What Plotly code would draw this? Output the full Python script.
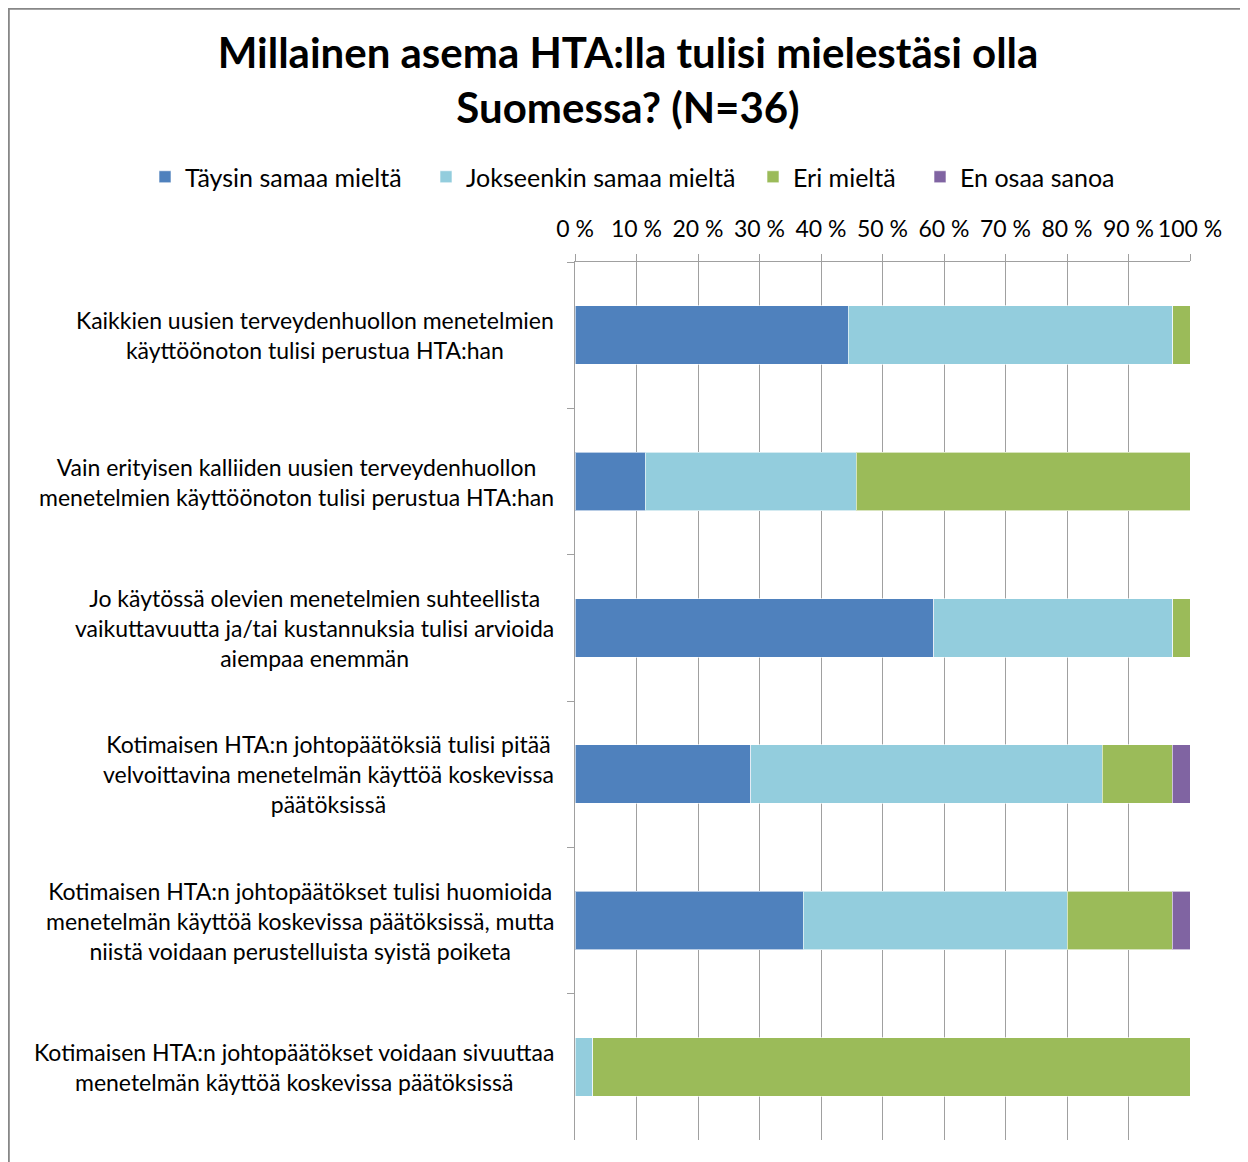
import plotly.graph_objects as go

# statements (top to bottom)
statements = [
    "Kaikkien uusien terveydenhuollon menetelmien<br>käyttöönoton tulisi perustua HTA:han",
    "Vain erityisen kalliiden uusien terveydenhuollon<br>menetelmien käyttöönoton tulisi perustua HTA:han",
    "Jo käytössä olevien menetelmien suhteellista<br>vaikuttavuutta ja/tai kustannuksia tulisi arvioida<br>aiempaa enemmän",
    "Kotimaisen HTA:n johtopäätöksiä tulisi pitää<br>velvoittavina menetelmän käyttöä koskevissa<br>päätöksissä",
    "Kotimaisen HTA:n johtopäätökset tulisi huomioida<br>menetelmän käyttöä koskevissa päätöksissä, mutta<br>niistä voidaan perustelluista syistä poiketa",
    "Kotimaisen HTA:n johtopäätökset voidaan sivuuttaa<br>menetelmän käyttöä koskevissa päätöksissä",
]
categories = ["S1", "S2", "S3", "S4", "S5", "S6"]

# shares in percent
taysin = [44.4, 11.4, 58.3, 28.6, 37.1, 0.0]
jokseenkin = [52.8, 34.3, 38.9, 57.1, 42.9, 2.9]
eri = [2.8, 54.3, 2.8, 11.4, 17.1, 97.1]
en_osaa = [0.0, 0.0, 0.0, 2.9, 2.9, 0.0]

series = [
    ("Täysin samaa mieltä", taysin, "#4F81BD", 236),
    ("Jokseenkin samaa mieltä", jokseenkin, "#93CDDD", 282),
    ("Eri mieltä", eri, "#9BBB59", 122),
    ("En osaa sanoa", en_osaa, "#8064A2", 160),
]

FONT = "Lato"
# the page puts the figure 8px in from the top-left corner
W, H = 1240, 1154
L, R, T, B = 567, 58, 254, 22
PW, PH = W - L - R, H - T - B

fig = go.Figure()
for name, vals, color, lw in series:
    fig.add_trace(go.Bar(
        name=name, y=categories, x=vals, orientation="h", legendwidth=lw,
        marker=dict(color=color, line=dict(color="rgba(255,255,255,0.6)", width=1)),
    ))

# category labels, centred lines left of the axis
for cat, text in zip(categories, statements):
    fig.add_annotation(
        x=0, xref="paper", y=cat, yref="y", text=text, showarrow=False,
        xanchor="right", yanchor="middle", align="center", xshift=-19,
        font=dict(family=FONT, size=23, color="#000000"),
    )

# outer frame
fig.add_shape(
    type="rect", xref="paper", yref="paper",
    x0=(0.8 - L) / PW, x1=(W + 20 - L) / PW,
    y0=-(B + 30) / PH, y1=1 + (T - 0.8) / PH,
    line=dict(color="#878787", width=2), layer="below",
)

fig.update_layout(
    width=W, height=H,
    margin=dict(l=L, r=R, t=T, b=B),
    paper_bgcolor="white", plot_bgcolor="white",
    barmode="stack", bargap=0.6,
    font=dict(family=FONT, size=23, color="#000000"),
    title=dict(
        text="<b>Millainen asema HTA:lla tulisi mielestäsi olla<br>Suomessa? (N=36)</b>",
        x=620 / W, xanchor="center", y=1 - 60 / H, yanchor="middle",
        font=dict(family=FONT, size=42, color="#000000"),
    ),
    legend=dict(
        orientation="h", x=(137 - L) / PW, xanchor="left",
        y=1 + (T - 169) / PH, yanchor="middle",
        font=dict(family=FONT, size=25), traceorder="normal",
    ),
    showlegend=True,
)

fig.update_xaxes(
    side="top", range=[0, 100], dtick=10, ticksuffix=" %",
    showgrid=True, gridcolor="#A0A0A0", gridwidth=1,
    showline=True, linecolor="#A0A0A0", linewidth=1,
    ticks="outside", ticklen=7, tickcolor="#A0A0A0", ticklabelstandoff=8,
    tickfont=dict(family=FONT, size=23), zeroline=False, fixedrange=True,
)
fig.update_yaxes(
    autorange="reversed", showticklabels=False,
    showline=True, linecolor="#A0A0A0", linewidth=1,
    ticks="outside", ticklen=7, tickcolor="#A0A0A0", tickson="boundaries",
    showgrid=False, fixedrange=True,
)

fig.write_html("out.html")
